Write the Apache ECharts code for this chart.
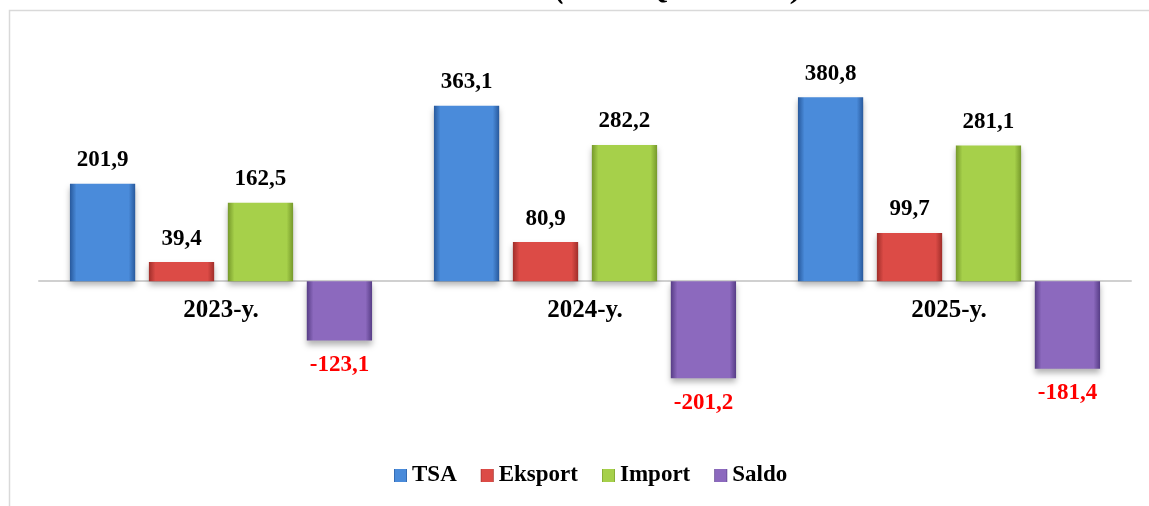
<!DOCTYPE html>
<html>
<head>
<meta charset="utf-8">
<script src="https://cdn.jsdelivr.net/npm/echarts@6/dist/echarts.min.js"></script>
<style>
  html, body { margin: 0; padding: 0; background: #fff; }
  #main { width: 1149px; height: 506px; }
</style>
</head>
<body>
<div id="main"></div>
<script>
// data
var categories = ['2023-y.', '2024-y.', '2025-y.'];
var tsaValues = [201.9, 363.1, 380.8];
var eksportValues = [39.4, 80.9, 99.7];
var importValues = [162.5, 282.2, 281.1];
var saldoValues = [-123.1, -201.2, -181.4];

var seriesNames = ['TSA', 'Eksport', 'Import', 'Saldo'];
var seriesData = [tsaValues, eksportValues, importValues, saldoValues];
// dark edge, light middle for the bevel look
var seriesColors = [
  ['#28599C', '#4A8BDA', '#28599C'],
  ['#A02E2A', '#DC4B46', '#A02E2A'],
  ['#76992B', '#A6D04A', '#76992B'],
  ['#573D86', '#8C69BE', '#573D86']
];
var legendColors = ['#3C78C8', '#C8403C', '#8DB83A', '#7A58AA'];

var fontFamily = '"Liberation Serif", "Times New Roman", serif';

function fmt (v) {
  return v.toFixed(1).replace('.', ',');
}

var chart = echarts.init(document.getElementById('main'));

var series = [];
seriesData.forEach(function (item, index) {
  var c = seriesColors[index];
  var negative = index === 3;
  series.push({
    name: seriesNames[index],
    type: 'bar',
    barGap: '21%',
    barCategoryGap: '17%',
    data: item,
    itemStyle: {
      color: new echarts.graphic.LinearGradient(0, 0, 1, 0, [
        { offset: 0, color: c[0] },
        { offset: 0.1, color: c[1] },
        { offset: 0.9, color: c[1] },
        { offset: 1, color: c[0] }
      ]),
      shadowColor: 'rgba(0,0,0,0.3)',
      shadowBlur: 6,
      shadowOffsetY: 4
    },
    label: {
      show: true,
      position: negative ? 'bottom' : 'top',
      distance: negative ? 13 : 12,
      fontFamily: fontFamily,
      fontWeight: 'bold',
      fontSize: 23,
      color: negative ? '#FF0000' : '#000',
      formatter: function (p) { return fmt(p.value); }
    }
  });
});

chart.setOption({
  animation: false,
  color: legendColors,
  graphic: [
    {
      type: 'rect',
      shape: { x: 9.5, y: 10.5, width: 1160, height: 520 },
      style: { fill: 'none', stroke: '#D9D9D9', lineWidth: 1.5 },
      z: -1
    },
    {
      // title, cut off by the top edge like in the picture
      type: 'text',
      x: 679,
      y: 5,
      style: {
        text: '(mln. AQSh dollari)',
        align: 'center',
        verticalAlign: 'bottom',
        font: 'italic bold 30px ' + fontFamily,
        fill: '#000'
      }
    }
  ],
  legend: {
    data: seriesNames,
    top: 459,
    left: 389,
    itemWidth: 13,
    itemHeight: 13,
    itemGap: 24,
    icon: 'rect',
    textStyle: {
      fontFamily: fontFamily,
      fontWeight: 'bold',
      fontSize: 23,
      color: '#000'
    }
  },
  grid: {
    left: 39,
    right: 18,
    top: 88,
    bottom: 80
  },
  xAxis: {
    type: 'category',
    data: categories,
    axisLine: { show: true, onZero: true, lineStyle: { color: '#D0D0D0', width: 2 } },
    axisTick: { show: false },
    axisLabel: {
      fontFamily: fontFamily,
      fontWeight: 'bold',
      fontSize: 25,
      color: '#000',
      margin: -128
    }
  },
  yAxis: {
    type: 'value',
    min: -300,
    max: 400,
    show: false,
    splitLine: { show: false }
  },
  series: series
});
</script>
</body>
</html>
